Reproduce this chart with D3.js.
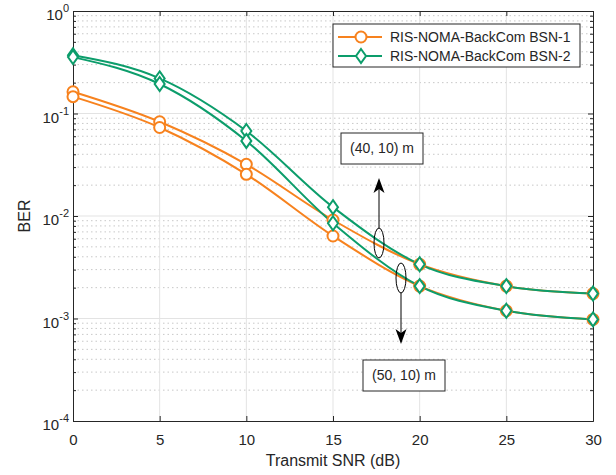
<!DOCTYPE html>
<html>
<head>
<meta charset="utf-8">
<script src="https://cdn.jsdelivr.net/npm/d3@7"></script>
<style>
  body { margin: 0; background: #fff; }
  svg { font-family: "Liberation Sans", Arial, sans-serif; }
</style>
</head>
<body>
<svg id="chart" width="616" height="475"></svg>
<script>
// data
var snr = [0, 5, 10, 15, 20, 25, 30];
var bsn1Near = [0.163, 0.083, 0.0319, 0.00914, 0.00338, 0.00207, 0.00175];
var bsn1Far = [0.146, 0.073, 0.0255, 0.00638, 0.00207, 0.00119, 0.00098];
var bsn2Near = [0.37, 0.22, 0.0675, 0.0122, 0.00338, 0.00207, 0.00175];
var bsn2Far = [0.355, 0.194, 0.054, 0.0085, 0.00207, 0.00119, 0.00098];
var xTicks = [0, 5, 10, 15, 20, 25, 30];
var yExps = [0, -1, -2, -3, -4];

var ORANGE = '#f7821e';
var GREEN = '#0c9d6b';
var AXIS = '#262626';

var svg = d3.select('#chart');
var plotL = 73, plotR = 593, plotT = 11, plotB = 421;

var x = d3.scaleLinear().domain([0, 30]).range([plotL, plotR]);
var y = d3.scaleLog().domain([1e-4, 1]).range([plotB, plotT]);

// minor grid (dotted)
var minors = [];
yExps.slice(1).forEach(function(e) {
    for (var k = 2; k <= 9; k++) minors.push(k * Math.pow(10, e));
});
svg.append('g').selectAll('line').data(minors).enter().append('line')
    .attr('x1', plotL).attr('x2', plotR)
    .attr('y1', function(d) { return y(d); }).attr('y2', function(d) { return y(d); })
    .attr('stroke', '#c8c8c8').attr('stroke-width', 1).attr('stroke-dasharray', '1.5,3');

// major grid
var grid = svg.append('g').attr('stroke', '#e3e3e3').attr('stroke-width', 1);
grid.selectAll('.gx').data(xTicks.slice(1, -1)).enter().append('line')
    .attr('x1', function(d) { return x(d); }).attr('x2', function(d) { return x(d); })
    .attr('y1', plotT).attr('y2', plotB);
grid.selectAll('.gy').data(yExps.slice(1, -1)).enter().append('line')
    .attr('x1', plotL).attr('x2', plotR)
    .attr('y1', function(d) { return y(Math.pow(10, d)); }).attr('y2', function(d) { return y(Math.pow(10, d)); });

// axes (inside ticks, box)
var axisBottom = d3.axisBottom(x).tickValues(xTicks).tickSizeInner(-5).tickSizeOuter(0).tickPadding(13);
var gxb = svg.append('g').attr('transform', 'translate(0,' + plotB + ')').call(axisBottom);
var axisTop = d3.axisTop(x).tickValues(xTicks).tickSizeInner(-5).tickSizeOuter(0).tickFormat('');
var gxt = svg.append('g').attr('transform', 'translate(0,' + plotT + ')').call(axisTop);

var majors = yExps.map(function(e) { return Math.pow(10, e); });
var axisLeft = d3.axisLeft(y).tickValues(majors).tickSizeInner(-5).tickSizeOuter(0).tickFormat('');
var gyl = svg.append('g').attr('transform', 'translate(' + plotL + ',0)').call(axisLeft);
var axisRight = d3.axisRight(y).tickValues(majors).tickSizeInner(-5).tickSizeOuter(0).tickFormat('');
var gyr = svg.append('g').attr('transform', 'translate(' + plotR + ',0)').call(axisRight);

var minorLeft = d3.axisLeft(y).tickValues(minors).tickSizeInner(-3).tickSizeOuter(0).tickFormat('');
var gml = svg.append('g').attr('transform', 'translate(' + plotL + ',0)').call(minorLeft);
var minorRight = d3.axisRight(y).tickValues(minors).tickSizeInner(-3).tickSizeOuter(0).tickFormat('');
var gmr = svg.append('g').attr('transform', 'translate(' + plotR + ',0)').call(minorRight);

[gxb, gxt, gyl, gyr, gml, gmr].forEach(function(g) {
    g.selectAll('path, line').attr('stroke', AXIS).attr('stroke-width', 1);
});
gxb.selectAll('text').attr('fill', AXIS).style('font-size', '15px')
    .style('font-family', '"Liberation Sans", Arial, sans-serif');

// y tick labels: 10^e
var yl = svg.append('g').attr('fill', AXIS);
yExps.forEach(function(e) {
    var t = yl.append('text')
        .attr('x', plotL - 4).attr('y', y(Math.pow(10, e)) + 9)
        .attr('text-anchor', 'end').style('font-size', '15px');
    t.append('tspan').text('10');
    t.append('tspan').attr('dy', -8).style('font-size', '11px').text(e === 0 ? '0' : '-' + (-e));
});

// axis labels
svg.append('text').attr('x', (plotL + plotR) / 2).attr('y', 466)
    .attr('text-anchor', 'middle').attr('fill', AXIS).style('font-size', '16px')
    .text('Transmit SNR (dB)');
svg.append('text').attr('transform', 'translate(30,' + ((plotT + plotB) / 2) + ') rotate(-90)')
    .attr('text-anchor', 'middle').attr('fill', AXIS).style('font-size', '16px')
    .text('BER');

// series
var line = d3.line()
    .x(function(d, i) { return x(snr[i]); })
    .y(function(d) { return y(d); })
    .curve(d3.curveMonotoneX);

var series = [
    { vals: bsn1Near, color: ORANGE, marker: 'circle' },
    { vals: bsn1Far, color: ORANGE, marker: 'circle' },
    { vals: bsn2Near, color: GREEN, marker: 'diamond' },
    { vals: bsn2Far, color: GREEN, marker: 'diamond' }
];

function drawMarker(g, kind, cx, cy, color) {
    if (kind === 'circle') {
        g.append('circle').attr('cx', cx).attr('cy', cy).attr('r', 5.5)
            .attr('fill', '#fff').attr('stroke', color).attr('stroke-width', 2);
    } else {
        g.append('path')
            .attr('d', 'M' + cx + ',' + (cy - 7) + 'L' + (cx + 5) + ',' + cy + 'L' + cx + ',' + (cy + 7) + 'L' + (cx - 5) + ',' + cy + 'Z')
            .attr('fill', '#fff').attr('stroke', color).attr('stroke-width', 2);
    }
}

var plot = svg.append('g');
series.forEach(function(s) {
    plot.append('path').datum(s.vals).attr('d', line)
        .attr('fill', 'none').attr('stroke', s.color).attr('stroke-width', 2);
});
series.forEach(function(s) {
    s.vals.forEach(function(v, i) {
        drawMarker(plot, s.marker, x(snr[i]), y(v), s.color);
    });
});

// annotations: ellipse + arrow + boxed label
function arrow(g, ax, y0, y1) {
    var dir = y1 < y0 ? 1 : -1; // 1 = pointing up
    g.append('line').attr('x1', ax).attr('y1', y0).attr('x2', ax).attr('y2', y1 + dir * 6)
        .attr('stroke', '#000').attr('stroke-width', 1);
    g.append('path')
        .attr('d', 'M' + ax + ',' + y1 +
            'L' + (ax + 5.5) + ',' + (y1 + dir * 15) +
            'L' + ax + ',' + (y1 + dir * 11) +
            'L' + (ax - 5.5) + ',' + (y1 + dir * 15) + 'Z')
        .attr('fill', '#000');
}

var ann = svg.append('g');
ann.append('ellipse').attr('cx', 379).attr('cy', 243).attr('rx', 5).attr('ry', 15)
    .attr('fill', 'none').attr('stroke', '#000').attr('stroke-width', 1);
arrow(ann, 379, 228, 178);
ann.append('rect').attr('x', 341).attr('y', 133).attr('width', 82).attr('height', 31)
    .attr('fill', '#fff').attr('stroke', AXIS).attr('stroke-width', 1);
ann.append('text').attr('x', 382).attr('y', 153).attr('text-anchor', 'middle')
    .style('font-size', '14px').attr('fill', AXIS).text('(40, 10) m');

ann.append('ellipse').attr('cx', 401).attr('cy', 278).attr('rx', 5).attr('ry', 15)
    .attr('fill', 'none').attr('stroke', '#000').attr('stroke-width', 1);
arrow(ann, 401, 293, 344);
ann.append('rect').attr('x', 363).attr('y', 360).attr('width', 82).attr('height', 31)
    .attr('fill', '#fff').attr('stroke', AXIS).attr('stroke-width', 1);
ann.append('text').attr('x', 404).attr('y', 380).attr('text-anchor', 'middle')
    .style('font-size', '14px').attr('fill', AXIS).text('(50, 10) m');

// legend
var lg = svg.append('g');
lg.append('rect').attr('x', 333).attr('y', 24).attr('width', 247).attr('height', 43)
    .attr('fill', '#fff').attr('stroke', AXIS).attr('stroke-width', 1);
var legendItems = [
    { name: 'RIS-NOMA-BackCom BSN-1', color: ORANGE, marker: 'circle' },
    { name: 'RIS-NOMA-BackCom BSN-2', color: GREEN, marker: 'diamond' }
];
legendItems.forEach(function(it, i) {
    var ly = 37 + i * 19;
    lg.append('line').attr('x1', 338).attr('x2', 382).attr('y1', ly).attr('y2', ly)
        .attr('stroke', it.color).attr('stroke-width', 2);
    drawMarker(lg, it.marker, 361, ly, it.color);
    lg.append('text').attr('x', 390).attr('y', ly + 5).style('font-size', '14px')
        .attr('fill', AXIS).text(it.name);
});
</script>
</body>
</html>
